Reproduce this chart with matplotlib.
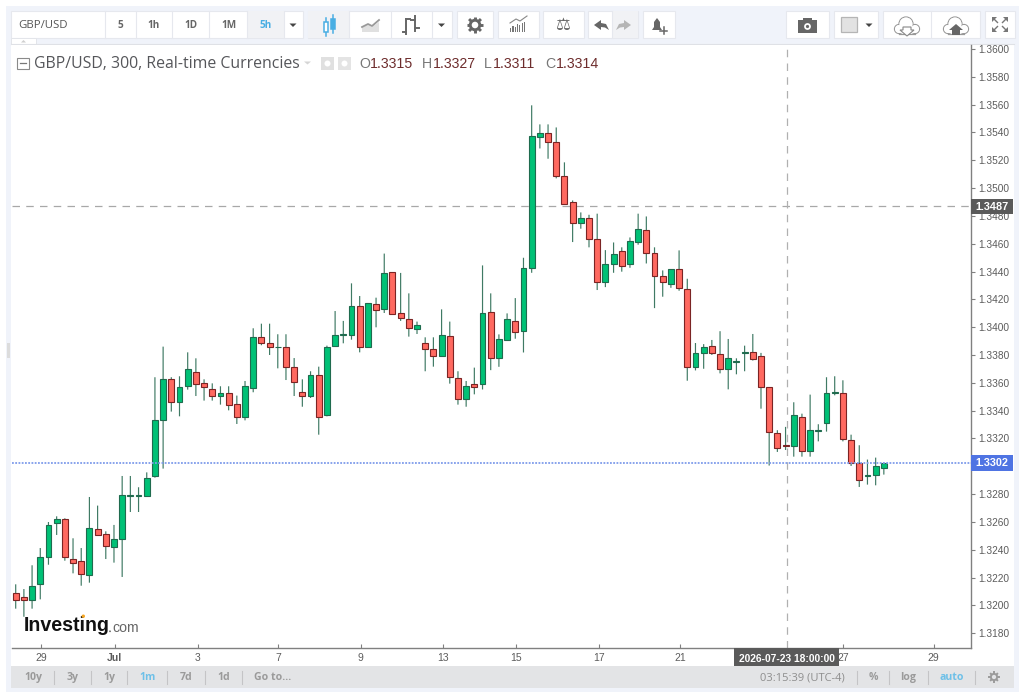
import matplotlib
matplotlib.use("Agg")
import matplotlib.pyplot as plt
from matplotlib.patches import Rectangle, Circle, Polygon
import math

# ---- data ----
opens = [1.32086,1.32060,1.32038,1.32156,1.32350,1.32590,1.32618,1.32336,1.32316,1.32218,
         1.32549,1.32515,1.32417,1.32479,1.32789,1.32789,1.32789,1.32928,1.33335,1.33625,
         1.33465,1.33575,1.33678,1.33596,1.33553,1.33508,1.33527,1.33445,1.33357,1.33565,
         1.33927,1.33884,1.33855,1.33858,1.33711,1.33534,1.33508,1.33659,1.33369,1.33865,
         1.33944,1.33946,1.34152,1.33858,1.34167,1.34133,1.34394,1.34104,1.34057,1.33987,
         1.33884,1.33843,1.33795,1.33934,1.33637,1.33486,1.33589,1.33588,1.34106,1.33775,
         1.33905,1.34041,1.33974,1.34423,1.35365,1.35393,1.35329,1.35084,1.34897,1.34746,
         1.34787,1.34636,1.34327,1.34456,1.34545,1.34456,1.34614,1.34696,1.34530,1.34365,
         1.34312,1.34415,1.34276,1.33711,1.33814,1.33865,1.33810,1.33697,1.33752,1.33815,
         1.33824,1.33791,1.33568,1.33237,1.33156,1.33148,1.33354,1.33108,1.33256,1.33314,
         1.33529,1.33527,1.33189,1.33024,1.32930,1.32935,1.32990]
highs = [1.32151,1.32117,1.32288,1.32412,1.32599,1.32640,1.32626,1.32482,1.32412,1.32779,
         1.32717,1.32532,1.32578,1.32930,1.32930,1.32849,1.32956,1.33640,1.33860,1.33640,
         1.33647,1.33819,1.33776,1.33625,1.33596,1.33575,1.33575,1.33508,1.33613,1.33992,
         1.34025,1.34025,1.33949,1.33949,1.33778,1.33625,1.33683,1.33716,1.33867,1.34116,
         1.34045,1.34315,1.34224,1.34174,1.34212,1.34529,1.34394,1.34390,1.34243,1.34040,
         1.33927,1.33927,1.34128,1.34040,1.33683,1.33613,1.33709,1.34444,1.34243,1.33948,
         1.34099,1.34209,1.34499,1.35595,1.35458,1.35458,1.35436,1.35185,1.34911,1.34825,
         1.34808,1.34816,1.34554,1.34609,1.34574,1.34645,1.34816,1.34796,1.34574,1.34408,
         1.34415,1.34552,1.34348,1.33886,1.33878,1.33908,1.33971,1.33915,1.33776,1.33867,
         1.33951,1.33815,1.33568,1.33259,1.33283,1.33460,1.33378,1.33515,1.33302,1.33640,
         1.33647,1.33618,1.33227,1.33151,1.33048,1.33062,1.33024]
lows = [1.31976,1.31918,1.31976,1.32043,1.32292,1.32506,1.32321,1.32230,1.32141,1.32163,
        1.32506,1.32333,1.32307,1.32204,1.32671,1.32671,1.32784,1.32918,1.32983,1.33393,
        1.33359,1.33551,1.33505,1.33472,1.33472,1.33443,1.33402,1.33304,1.33330,1.33532,
        1.33870,1.33800,1.33704,1.33620,1.33505,1.33428,1.33491,1.33227,1.33359,1.33865,
        1.33884,1.33910,1.33819,1.33858,1.33999,1.34102,1.34097,1.34045,1.33932,1.33951,
        1.33683,1.33716,1.33795,1.33594,1.33443,1.33428,1.33517,1.33552,1.33691,1.33715,
        1.33905,1.33917,1.33818,1.34391,1.35285,1.35211,1.35070,1.34883,1.34612,1.34708,
        1.34574,1.34267,1.34288,1.34391,1.34399,1.34427,1.34593,1.34458,1.34137,1.34219,
        1.34283,1.34262,1.33615,1.33689,1.33701,1.33800,1.33668,1.33553,1.33661,1.33683,
        1.33760,1.33414,1.33005,1.33103,1.33117,1.33069,1.33069,1.33069,1.33179,1.33249,
        1.33510,1.33179,1.33002,1.32851,1.32868,1.32863,1.32940]
closes = [1.32038,1.32041,1.32137,1.32350,1.32578,1.32618,1.32350,1.32307,1.32225,1.32556,
          1.32506,1.32424,1.32479,1.32791,1.32791,1.32796,1.32913,1.33335,1.33625,1.33465,
          1.33568,1.33699,1.33589,1.33568,1.33508,1.33527,1.33438,1.33354,1.33575,1.33927,
          1.33884,1.33858,1.33860,1.33711,1.33608,1.33505,1.33656,1.33354,1.33858,1.33946,
          1.33949,1.34152,1.33858,1.34174,1.34126,1.34387,1.34097,1.34064,1.33997,1.34016,
          1.33843,1.33795,1.33946,1.33644,1.33486,1.33575,1.33572,1.34099,1.33775,1.33912,
          1.34056,1.33967,1.34423,1.35372,1.35393,1.35329,1.35084,1.34883,1.34746,1.34787,
          1.34636,1.34324,1.34456,1.34523,1.34442,1.34621,1.34703,1.34530,1.34365,1.34324,
          1.34415,1.34283,1.33711,1.33816,1.33857,1.33817,1.33697,1.33776,1.33757,1.33819,
          1.33774,1.33568,1.33244,1.33129,1.33146,1.33369,1.33108,1.33259,1.33261,1.33527,
          1.33534,1.33196,1.33026,1.32899,1.32935,1.33000,1.33024]
y_ticks = [1.318,1.320,1.322,1.324,1.326,1.328,1.330,1.332,1.334,1.336,1.338,1.340,1.342,
           1.344,1.346,1.348,1.350,1.352,1.354,1.356,1.358,1.360]
x_tick_pos = [3.13,12.1,22.2,32.05,42.15,52.2,61.1,71.2,81.1,101.0,112.1]
x_tick_labels = ["29","Jul","3","7","9","13","15","17","21","27","29"]
cross_price = 1.3487
last_price = 1.3302
cross_index = 94.15

# ---- figure ----
W, H = 1024, 699
fig = plt.figure(figsize=(W/100, H/100), dpi=100, facecolor="white")
SANS = "Liberation Sans"
UI = "Open Sans"

def pixel_axes(z):
    a = fig.add_axes([0, 0, 1, 1], zorder=z)
    a.set_xlim(0, W); a.set_ylim(H, 0); a.axis("off"); a.patch.set_alpha(0)
    return a

bg = pixel_axes(0)
top = pixel_axes(3)

def rect(a, x0, y0, x1, y1, fc, ec="none", lw=0, z=1):
    a.add_patch(Rectangle((x0, y0), x1-x0, y1-y0, fc=fc, ec=ec, lw=lw, zorder=z))

def gear(a, cx, cy, r, col, z=6):
    for k in range(8):
        t = k*math.pi/4
        a.plot([cx+r*0.75*math.cos(t), cx+r*1.2*math.cos(t)],
               [cy+r*0.75*math.sin(t), cy+r*1.2*math.sin(t)],
               color=col, lw=r*0.3, solid_capstyle="butt", zorder=z)
    a.add_patch(Circle((cx, cy), r*0.68, fc="none", ec=col, lw=r*0.3, zorder=z))

# outer panel
rect(bg, 6, 6, 1019, 692, "#f0f3fa")
rect(bg, 11, 44, 1014, 666, "white", z=2)

# main chart
L, R, T, B = 12, 971, 44.5, 648.3
ax = fig.add_axes([L/W, 1-B/H, (R-L)/W, (B-T)/H], zorder=1, facecolor="white")
UP, DOWN = "#00c176", "#ff6960"
UP_E, DOWN_E = "#1f6b4e", "#7b2424"
WICK = "#3f7a64"
xs = list(range(len(opens)))
ax.vlines(xs, lows, highs, color=WICK, lw=0.85, zorder=2, snap=False)
for x, o, c in zip(xs, opens, closes):
    up = c >= o
    ax.bar(x, max(abs(c-o), 0.00002), bottom=min(o, c), width=0.72,
           color=UP if up else DOWN, edgecolor=UP_E if up else DOWN_E, lw=0.8, zorder=3)
ax.set_xlim((L-15.7)/8.19, (R-15.7)/8.19)
ax.set_ylim(1.36-(B-49)*7.19e-5, 1.36+(49-T)*7.19e-5)
ax.axhline(cross_price, color="#a8a8a8", lw=0.9, dashes=(6, 5), zorder=1)
ax.axvline(cross_index, color="#b0b0b0", lw=0.9, dashes=(6, 5), zorder=1)
ax.axhline(last_price, color="#7f9ceb", lw=1.3, dashes=(1, 0.8), zorder=4)
for s in ("left", "top"):
    ax.spines[s].set_visible(False)
for s in ("right", "bottom"):
    ax.spines[s].set_color("#808080"); ax.spines[s].set_linewidth(1.0)
ax.yaxis.tick_right()
ax.set_yticks(y_ticks)
# the label of 1.3300 lies wholly under the last-price tag in the reference
ax.set_yticklabels(["" if abs(v-1.330) < 1e-6 else f"{v:.4f}" for v in y_ticks],
                   fontfamily=SANS, fontsize=7.3, color="#5c5c5c")
ax.set_xticks(x_tick_pos)
ax.set_xticklabels(x_tick_labels, fontfamily=SANS, fontsize=7.5, color="#5c5c5c")
ax.get_xticklabels()[1].set_fontweight("bold")
ax.tick_params(axis="y", length=3, width=0.8, color="#808080", pad=2.2)
ax.tick_params(axis="x", length=3, width=0.8, color="#808080", pad=3.5, direction="in")

# price tags and date tag
rect(top, 971, 199, 1013, 214, "#5a5a5a")
top.text(992, 207, f"{cross_price:.4f}", color="white", fontfamily=SANS, fontsize=7.8, fontweight="bold", ha="center", va="center", zorder=5)
rect(top, 971, 455, 1013, 471, "#4f74e3")
top.text(992, 463.5, f"{last_price:.4f}", color="white", fontfamily=SANS, fontsize=7.8, fontweight="bold", ha="center", va="center", zorder=5)
rect(top, 734, 648, 839, 666, "#5a5a5a")
top.text(786.5, 659, "2026-07-23 18:00:00", color="white", fontfamily=SANS, fontsize=7.4, fontweight="bold", ha="center", va="center", zorder=5)

# header
rect(top, 17, 58, 28.5, 68.5, "white", ec="#8a8a8a", lw=0.8)
top.plot([19.5, 26], [63.3, 63.3], color="#777", lw=0.9, zorder=3)
top.text(34, 64.5, "GBP/USD, 300, Real-time Currencies", fontfamily=UI, fontsize=11.42, color="#55565a", va="center")
top.add_patch(Polygon([[304, 61.5], [311, 61.5], [307.5, 64.5]], fc="#d5d5d5", ec="none"))
rect(top, 321, 57, 334, 70, "#e0e0e0", z=2)
rect(top, 338, 57, 351, 70, "#e4e4e4", z=2)
top.add_patch(Circle((327.5, 63.5), 3, fc="white", ec="none", zorder=3))
top.add_patch(Circle((344.5, 63.5), 3, fc="white", ec="none", zorder=3))
def hdr(x, letter, val, off):
    top.text(x, 64.5, letter, fontfamily=SANS, fontsize=10.2, color="#777", va="center")
    top.text(x+off, 64.5, val, fontfamily=SANS, fontsize=10.2, color="#6d2c2c", va="center")
hdr(359, "O", "1.3315", 11); hdr(421.5, "H", "1.3327", 11); hdr(484, "L", "1.3311", 8.5); hdr(545, "C", "1.3314", 10.5)

# logo
top.text(24, 625.5, "Investing", fontfamily=SANS, fontweight="bold", fontsize=14.1, color="#111", va="center")
top.text(112, 627.5, "com", fontfamily=SANS, fontsize=10.2, color="#666", va="center")
top.add_patch(Circle((110, 631.3), 0.9, fc="#666", ec="none", zorder=4))
top.add_patch(Circle((83.3, 616.2), 1.7, fc="#f5a623", ec="none", zorder=4))

# toolbar
BTN_Y0, BTN_Y1 = 11, 38
def group(x0, x1, seps=()):
    rect(bg, x0, BTN_Y0, x1, BTN_Y1, "white", ec="#e6e8ee", lw=0.8, z=3)
    for s in seps:
        bg.plot([s, s], [BTN_Y0, BTN_Y1], color="#e6e8ee", lw=0.8, zorder=5)
def arrow(x, y=25):
    bg.add_patch(Polygon([[x-3.5, y-1.5], [x+3.5, y-1.5], [x, y+2]], fc="#444", ec="none", zorder=6))

group(11, 303, [105, 135.5, 172, 209, 247, 284])
rect(bg, 247, 11, 284, 38, "#f1f2f5", z=4)
bg.text(18, 25, "GBP/USD", fontfamily=UI, fontsize=8.2, color="#555", va="center", zorder=6)
for cx, t, col in [(120.5, "5", "#666"), (154, "1h", "#666"), (191, "1D", "#666"), (228.5, "1M", "#666"), (265.5, "5h", "#49aee3")]:
    bg.text(cx, 25, t, fontfamily=UI, fontsize=7.2, fontweight="bold", color=col, ha="center", va="center", zorder=6)
arrow(293)

group(308, 452, [349, 391, 432])
rect(bg, 308, 11, 349, 38, "#f1f2f5", z=4)
for x0, y0, y1, yw0, yw1, fc in [(324, 22, 32, 18, 36, "white"), (331, 19, 29, 15, 33, "#49aee3")]:
    bg.plot([x0+2, x0+2], [yw0, yw1], color="#49aee3", lw=1.1, zorder=6)
    rect(bg, x0, y0, x0+4, y1, fc, ec="#49aee3", lw=1.1, z=7)
bg.add_patch(Polygon([[362, 32], [362, 27], [368, 25], [372, 27], [379, 22], [379, 32]], fc="#e0e0e0", ec="none", zorder=6))
bg.plot([362, 368, 372, 379], [27, 24, 26, 20], color="#999", lw=1.3, zorder=7)
for xa, xb, ya, yb in [(406, 406, 19, 34), (406, 410, 19, 19), (403, 406, 32, 32),
                       (415, 415, 16, 31), (415, 419, 28, 28), (411, 415, 20, 20)]:
    bg.plot([xa, xb], [ya, yb], color="#666", lw=1.4, zorder=6)
arrow(441.5)

group(457, 493)
gear(bg, 475, 25, 7, "#666")
group(498, 539)
for i, hgt in enumerate([4, 6, 5, 8, 7, 9, 10]):
    rect(bg, 510+i*2.3, 32-hgt, 511.2+i*2.3, 32, "#777", z=6)
bg.plot([510, 516, 520, 527], [23, 19, 21, 16], color="#888", lw=0.8, zorder=6)
group(543, 584)
bg.text(563.5, 25, "\u2696", fontfamily="DejaVu Sans", fontsize=12, color="#666", ha="center", va="center", zorder=6)
group(588, 638, [612])
rect(bg, 612, 11, 638, 38, "#f1f2f5", z=4)
bg.add_patch(Polygon([[594, 25], [601, 20], [601, 23], [606, 24], [609, 30], [605, 27.5], [601, 27], [601, 30]], fc="#666", ec="none", zorder=6))
bg.add_patch(Polygon([[631, 25], [624, 20], [624, 23], [619, 24], [616, 30], [620, 27.5], [624, 27], [624, 30]], fc="#b5b5b5", ec="none", zorder=6))
group(643, 675)
bg.add_patch(Polygon([[652, 30], [654, 27], [654, 22], [657, 18], [660, 22], [660, 27], [662, 30]], fc="#666", ec="none", zorder=6))
bg.plot([660, 667], [30.5, 30.5], color="#666", lw=1.1, zorder=6)
bg.plot([663.5, 663.5], [27, 34], color="#666", lw=1.1, zorder=6)
group(786, 829)
rect(bg, 798, 20, 817, 33, "#666", z=6)
rect(bg, 803, 18, 812, 21, "#666", z=6)
bg.add_patch(Circle((807.5, 26.5), 3.4, fc="white", ec="none", zorder=7))
bg.add_patch(Circle((807.5, 26.5), 1.6, fc="#666", ec="none", zorder=8))
group(834, 878, [])
rect(bg, 841, 17, 857, 32, "#e2e2e2", ec="#b5b5b5", lw=0.9, z=6)
arrow(869)
group(883, 980, [931])
def cloud(cx):
    parts = [(-8, 3, 4.5), (8, 3, 4.5), (-1, -2, 7)]
    for dx, dy, r in parts:
        bg.add_patch(Circle((cx+dx, 26+dy), r, fc="white", ec="#999", lw=0.9, zorder=6))
    for dx, dy, r in parts:
        bg.add_patch(Circle((cx+dx, 26+dy), r-0.5, fc="white", ec="none", zorder=7))
    rect(bg, cx-8, 27, cx+8, 33, "white", z=7)
    bg.plot([cx-8, cx+8], [33.5, 33.5], color="#999", lw=0.9, zorder=8)
cloud(907)
bg.add_patch(Polygon([[903, 27], [911, 27], [911, 30], [914, 30], [907, 36], [900, 30], [903, 30]], fc="white", ec="#888", lw=0.8, zorder=9))
cloud(956)
bg.add_patch(Polygon([[952, 35], [960, 35], [960, 30], [963, 30], [956, 24], [949, 30], [952, 30]], fc="#666", ec="none", zorder=9))
group(985, 1015)
for cx, cy, sx, sy in [(994, 19, 1, 1), (1006, 19, -1, 1), (994, 30, 1, -1), (1006, 30, -1, -1)]:
    bg.add_patch(Polygon([[cx-sx*2, cy-sy*2], [cx+sx*3, cy-sy*2], [cx-sx*2, cy+sy*3]], fc="#777", ec="none", zorder=6))
    bg.plot([cx-sx, cx+sx*3.5], [cy-sy, cy+sy*3.5], color="#777", lw=1, zorder=6)

# small tab under toolbar
rect(bg, 11, 38, 36, 44, "white", ec="#e3e5ea", lw=0.7, z=3)
bg.add_patch(Polygon([[21, 42.5], [26, 42.5], [23.5, 40]], fc="#cfcfcf", ec="none", zorder=6))
bg.plot([11, 1014], [44.3, 44.3], color="#dfe1e6", lw=0.8, zorder=4)
rect(bg, 7, 343, 10, 358, "#dcdcdc", z=3)

# bottom bar
rect(top, 11, 666, 1014, 688, "#e3e4e6", z=1)
for cx, t, col in [(33, "10y", "#9a9a9a"), (73, "3y", "#9a9a9a"), (109, "1y", "#9a9a9a"), (148, "1m", "#6dc0e8"),
                   (186.5, "7d", "#9a9a9a"), (224, "1d", "#9a9a9a"), (273, "Go to...", "#9a9a9a")]:
    top.text(cx, 677.5, t, fontfamily=UI, fontsize=7.6, fontweight="bold", color=col, ha="center", va="center", zorder=5)
for s in [54, 90.5, 126.7, 167, 204.7, 241.5, 857, 889, 928, 975]:
    top.plot([s, s], [670.5, 684], color="#c4c4c6", lw=0.8, zorder=5)
top.text(802, 677.5, "03:15:39 (UTC-4)", fontfamily=UI, fontsize=8, color="#8e8e8e", ha="center", va="center", zorder=5)
top.text(873, 677.5, "%", fontfamily=UI, fontsize=7.6, fontweight="bold", color="#9a9a9a", ha="center", va="center", zorder=5)
top.text(908.5, 677.5, "log", fontfamily=UI, fontsize=7.6, fontweight="bold", color="#9a9a9a", ha="center", va="center", zorder=5)
top.text(952, 677.5, "auto", fontfamily=UI, fontsize=7.6, fontweight="bold", color="#6dc0e8", ha="center", va="center", zorder=5)
gear(top, 994, 677, 4.6, "#9a9a9a", z=5)

fig.savefig("out.png", dpi=100, facecolor="white")
